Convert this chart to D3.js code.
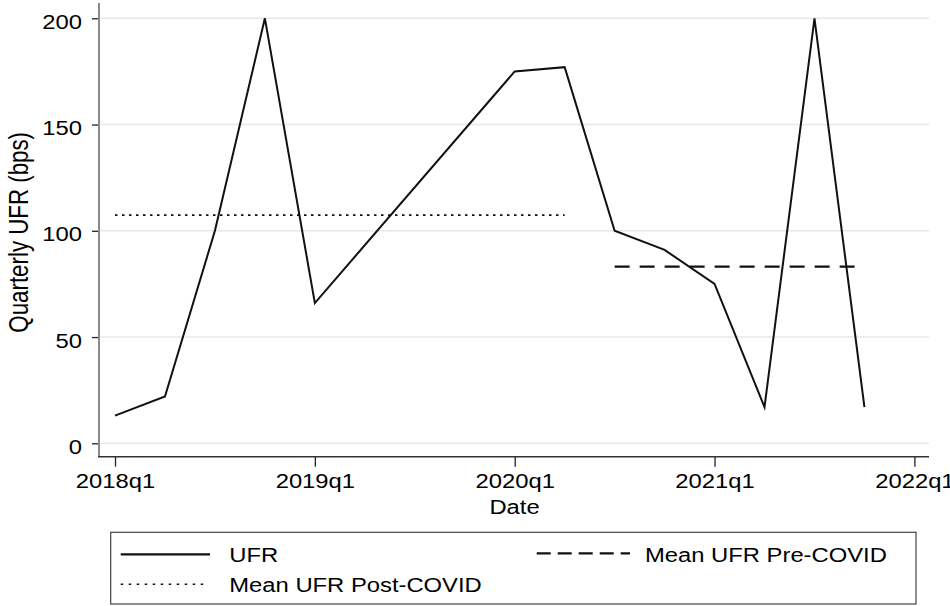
<!DOCTYPE html>
<html>
<head>
<meta charset="utf-8">
<script src="https://cdn.jsdelivr.net/npm/d3@7"></script>
<style>
  body { margin: 0; background: #fff; }
  text { font-family: "Liberation Sans", Arial, Helvetica, sans-serif; fill: #000; }
</style>
</head>
<body>
<div id="chart"></div>
<script>
// Donnees (UFR trimestriel, en bps)
const quarters = ["2018q1","2018q2","2018q3","2018q4","2019q1","2020q1","2020q2",
                  "2020q3","2020q4","2021q1","2021q2","2021q3","2021q4"];
const ufr = [13, 22, 100, 200, 66, 175, 177, 100, 91, 75, 17, 200, 17];

// Moyennes horizontales
const dottedSpan = ["2018q1", "2020q2"], dottedMean = 107.4;
const dashedSpan = ["2020q3", "2021q4"], dashedMean = 83.1;

const xTicks = ["2018q1","2019q1","2020q1","2021q1","2022q1"];
const yTicks = [0, 50, 100, 150, 200];
const legendLabels = ["UFR", "Mean UFR Pre-COVID", "Mean UFR Post-COVID"];

const width = 950, height = 606;
const sx = 1.19; // le texte de l'original est etire horizontalement

// trimestre -> index (0 = 2018q1)
function qIndex(s) { return (+s.slice(0, 4) - 2018) * 4 + (+s.slice(5) - 1); }

const svg = d3.select("#chart").append("svg")
    .attr("width", width)
    .attr("height", height);

svg.append("rect").attr("width", width).attr("height", height).attr("fill", "#fff");

const x = d3.scaleLinear().domain([0, 16]).range([115, 914.4]);
const y = d3.scaleLinear().domain([0, 200]).range([443.3, 18.3]);

const plotLeft = 99, plotRight = 929, plotTop = 3, plotBottom = 456.7;

// Grille
svg.append("g").selectAll("line")
    .data(yTicks)
    .join("line")
    .attr("x1", plotLeft).attr("x2", plotRight)
    .attr("y1", d => y(d)).attr("y2", d => y(d))
    .attr("stroke", "#e8e8e8")
    .attr("stroke-width", 1.6);

// Axe Y
const gy = svg.append("g")
    .attr("transform", `translate(${plotLeft},0)`)
    .call(d3.axisLeft(y).tickValues(yTicks).tickSize(7).tickSizeOuter(0));
gy.select(".domain").remove();
gy.selectAll(".tick line").attr("stroke", "#222").attr("stroke-width", 1.3);
gy.selectAll(".tick text")
    .attr("x", null).attr("dy", null)
    .attr("transform", `translate(-17,10) scale(${sx},1)`)
    .attr("text-anchor", "end")
    .style("font-size", "20px")
    .style("font-family", "'Liberation Sans', Arial, sans-serif")
    .attr("fill", "#000");

// Axe X
const gx = svg.append("g")
    .attr("transform", `translate(0,${plotBottom})`)
    .call(d3.axisBottom(x).tickValues(xTicks.map(qIndex))
        .tickFormat((d, i) => xTicks[i]).tickSize(10).tickSizeOuter(0));
gx.select(".domain").remove();
gx.selectAll(".tick line").attr("stroke", "#222").attr("stroke-width", 1.3);
gx.selectAll(".tick text")
    .attr("y", null).attr("dy", null)
    .attr("transform", `translate(0,31.5) scale(${sx},1)`)
    .style("font-size", "20px")
    .style("font-family", "'Liberation Sans', Arial, sans-serif")
    .attr("fill", "#000");

// Lignes des axes
svg.append("line")
    .attr("x1", plotLeft).attr("x2", plotLeft)
    .attr("y1", plotTop).attr("y2", plotBottom)
    .attr("stroke", "#8a8a8a").attr("stroke-width", 2);
svg.append("line")
    .attr("x1", plotLeft - 1).attr("x2", plotRight)
    .attr("y1", plotBottom).attr("y2", plotBottom)
    .attr("stroke", "#333").attr("stroke-width", 1.5);

// Titres des axes
svg.append("text")
    .attr("transform", `translate(514.5,514) scale(${sx},1)`)
    .attr("text-anchor", "middle")
    .style("font-size", "20px")
    .text("Date");
svg.append("text")
    .attr("transform", `translate(28,232.3) rotate(-90) scale(1,1.2)`)
    .attr("text-anchor", "middle")
    .style("font-size", "22.3px")
    .text("Quarterly UFR (bps)");

// Moyennes
svg.append("line")
    .attr("x1", x(qIndex(dottedSpan[0]))).attr("x2", x(qIndex(dottedSpan[1])))
    .attr("y1", y(dottedMean)).attr("y2", y(dottedMean))
    .attr("stroke", "#111").attr("stroke-width", 1.7)
    .attr("stroke-dasharray", "2.5,4.5");
svg.append("line")
    .attr("x1", x(qIndex(dashedSpan[0]))).attr("x2", x(qIndex(dashedSpan[1])))
    .attr("y1", y(dashedMean)).attr("y2", y(dashedMean))
    .attr("stroke", "#111").attr("stroke-width", 2.2)
    .attr("stroke-dasharray", "15,10");

// Serie UFR
const line = d3.line()
    .x((d, i) => x(qIndex(quarters[i])))
    .y(d => y(d));
svg.append("path")
    .datum(ufr)
    .attr("d", line)
    .attr("fill", "none")
    .attr("stroke", "#111")
    .attr("stroke-width", 2)
    .attr("stroke-linejoin", "miter");

// Legende
const legend = svg.append("g");
legend.append("rect")
    .attr("x", 110.7).attr("y", 532.3)
    .attr("width", 916 - 110.7).attr("height", 604 - 532.3)
    .attr("fill", "#fff").attr("stroke", "#444").attr("stroke-width", 1.2);

const legendItems = [
    {label: legendLabels[0], x0: 120.7, x1: 210, ly: 554.3, tx: 229.3, ty: 562.3, dash: null, w: 2.2},
    {label: legendLabels[1], x0: 536.7, x1: 630, ly: 553.3, tx: 645, ty: 562.3, dash: "14,7", w: 2.2},
    {label: legendLabels[2], x0: 120.7, x1: 208, ly: 584.3, tx: 229.3, ty: 591.7, dash: "2.5,5.5", w: 1.5}
];
legendItems.forEach(function(d) {
    legend.append("line")
        .attr("x1", d.x0).attr("x2", d.x1)
        .attr("y1", d.ly).attr("y2", d.ly)
        .attr("stroke", "#111").attr("stroke-width", d.w)
        .attr("stroke-dasharray", d.dash);
    legend.append("text")
        .attr("transform", `translate(${d.tx},${d.ty}) scale(${sx},1)`)
        .style("font-size", "20px")
        .text(d.label);
});
</script>
</body>
</html>
